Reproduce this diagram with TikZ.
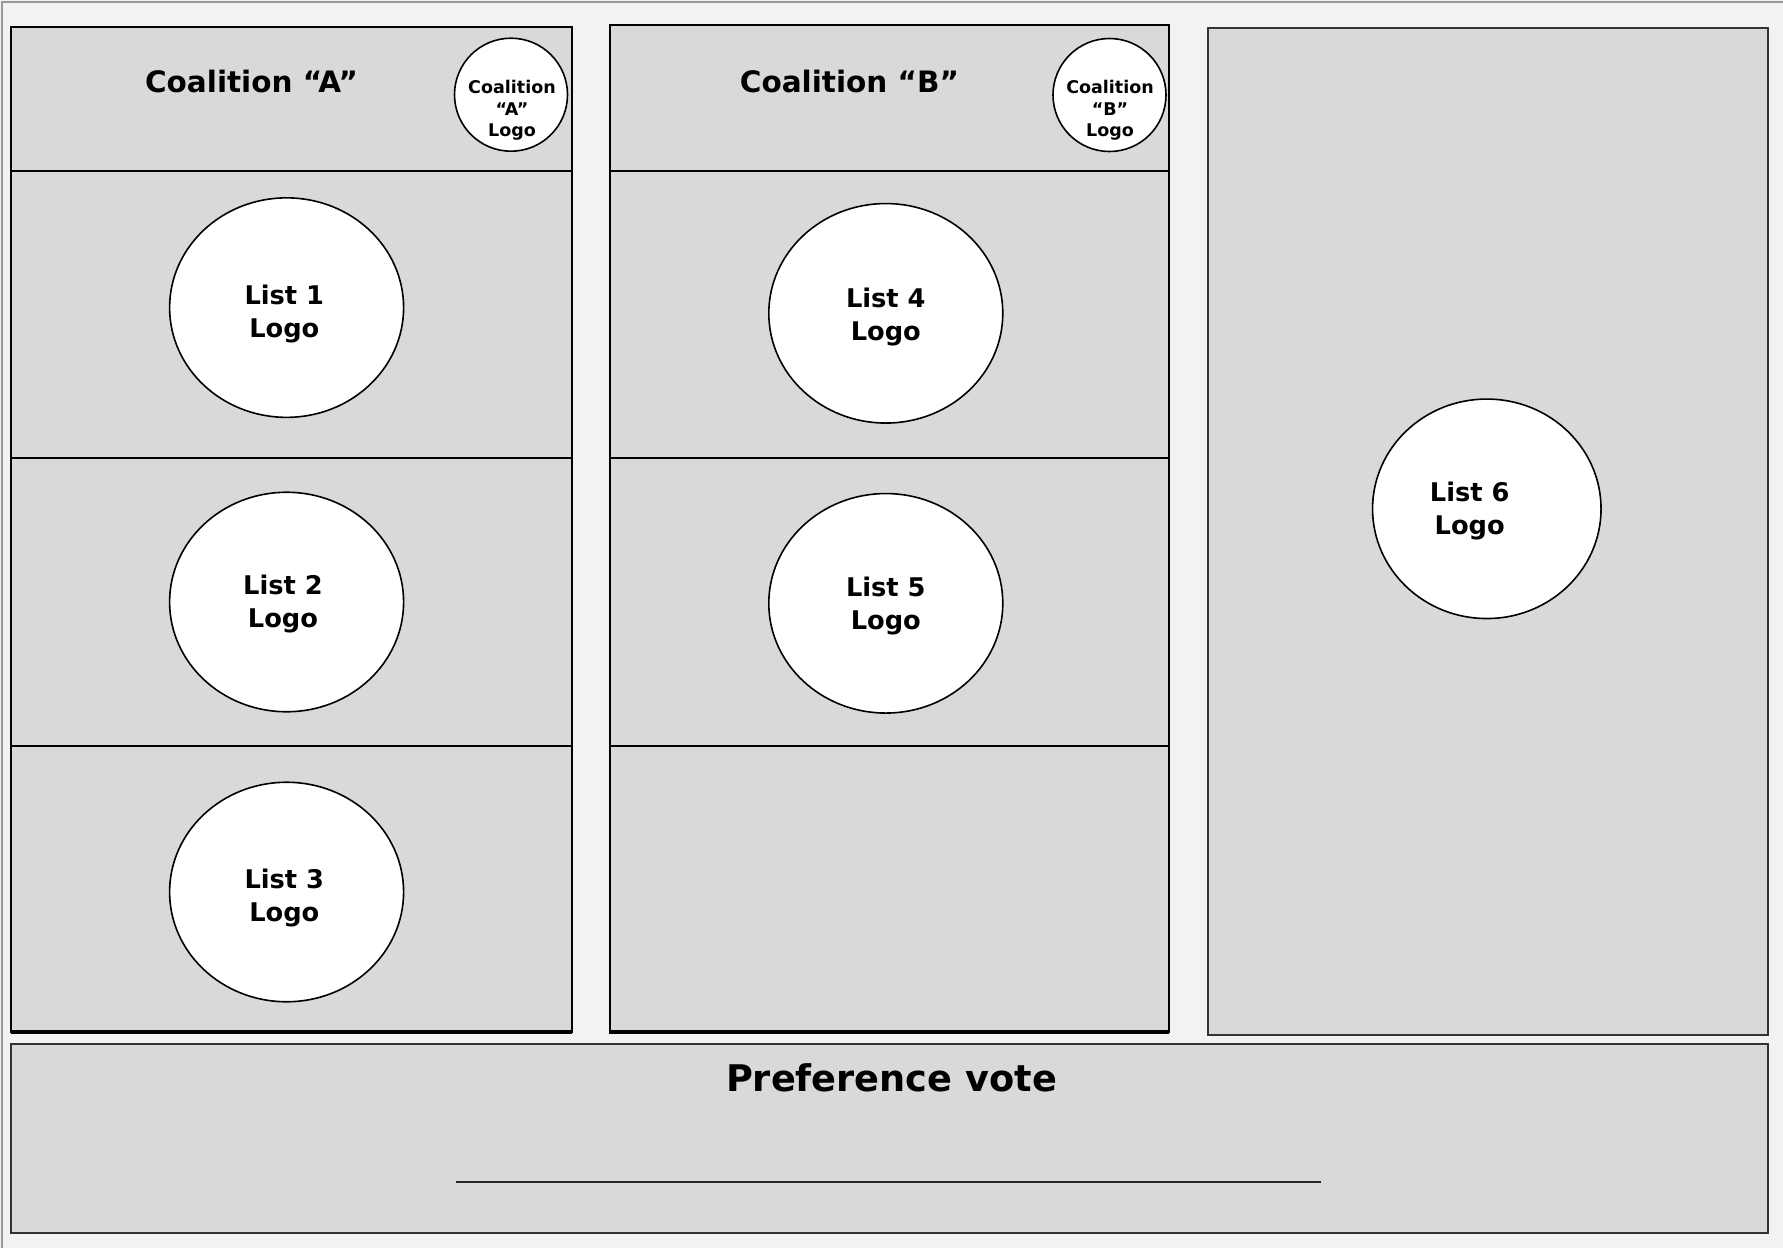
\documentclass[tikz,border=0pt]{standalone}
\usepackage{fontspec}
\setmainfont{DejaVu Sans}
\usetikzlibrary{shapes.geometric}
\definecolor{cellgray}{HTML}{D9D9D9}
\definecolor{bggray}{HTML}{F2F2F2}
\definecolor{framegray}{HTML}{999999}
\begin{document}
\begin{tikzpicture}[x=1pt,y=-1pt,
  panel/.style={draw=black, line width=2pt, fill=cellgray},
  softpanel/.style={draw=black!80, line width=2pt, fill=cellgray},
  divider/.style={draw=black, line width=2pt},
  bigoval/.style={ellipse, draw=black, line width=1.6pt, fill=white, inner sep=0pt,
    minimum width=234pt, minimum height=219.5pt},
  smalloval/.style={ellipse, draw=black, line width=1.6pt, fill=white, inner sep=0pt,
    minimum width=113pt, minimum height=113pt},
  logotxt/.style={align=center, inner sep=0pt, font=\bfseries\fontsize{25.7}{33}\selectfont},
  smalltxt/.style={align=center, inner sep=0pt, font=\bfseries\fontsize{17.5}{21.7}\selectfont},
  titletxt/.style={inner sep=0pt, font=\bfseries\fontsize{29.5}{35}\selectfont},
  preftxt/.style={inner sep=0pt, font=\bfseries\fontsize{36.7}{44}\selectfont}]
\useasboundingbox (0,0) rectangle (1783,1248);
\fill[bggray] (0,0) rectangle (1783,1248);
\draw[framegray, line width=2pt] (1.5,1248) -- (1.5,1.5) -- (1783,1.5);

% Coalition A column
\draw[panel] (11.4,27.3) rectangle (572,1032);
\draw[divider] (11.4,170.6) -- (572,170.6);
\draw[divider] (11.4,458.3) -- (572,458.3);
\draw[divider] (11.4,746) -- (572,746);
\draw[black, line width=3.5pt] (11.4,1032) -- (572,1032);

% Coalition B column
\draw[panel] (609.5,25) rectangle (1169,1032);
\draw[divider] (609.5,170.6) -- (1169,170.6);
\draw[divider] (609.5,458.3) -- (1169,458.3);
\draw[divider] (609.5,746) -- (1169,746);
\draw[black, line width=4pt] (608.5,1032) -- (1169,1032);

% List 6 column
\draw[softpanel] (1208,28.4) rectangle (1768,1034.5);

% Preference vote box
\draw[softpanel] (11.4,1044) rectangle (1768,1232.5);

% Titles
\node[titletxt] (titleA) at (251.5,81.5) {Coalition “A”};
\node[titletxt] (titleB) at (849.4,81.5) {Coalition “B”};

% Coalition logos
\node[smalloval] (logoA) at (511,94.7) {};
\node[smalltxt] (logoAtxt) at (512,110.4) {Coalition\\“A”\\Logo};
\node[smalloval] (logoB) at (1109.5,95) {};
\node[smalltxt] (logoBtxt) at (1110,110.4) {Coalition\\“B”\\Logo};

% List logos
\node[bigoval] (l1) at (286.6,307.6) {};
\node[logotxt] (l1t) at (284.3,313.6) {List 1\\Logo};
\node[bigoval] (l2) at (286.6,602) {};
\node[logotxt] (l2t) at (283,603.6) {List 2\\Logo};
\node[bigoval] (l3) at (286.6,892) {};
\node[logotxt] (l3t) at (284.3,898.1) {List 3\\Logo};
\node[bigoval] (l4) at (885.8,313.3) {};
\node[logotxt] (l4t) at (885.8,317.1) {List 4\\Logo};
\node[bigoval] (l5) at (885.8,603.3) {};
\node[logotxt] (l5t) at (885.8,605.8) {List 5\\Logo};
\node[bigoval, minimum width=228.5pt] (l6) at (1486.8,508.8) {};
\node[logotxt] (l6t) at (1469.7,511.5) {List 6\\Logo};

% Preference vote
\node[preftxt] (pref) at (891.5,1078) {Preference vote};
\coordinate (lineL) at (456,1181.5);
\coordinate (lineR) at (1321,1181.5);
\draw[black!85, line width=2pt] (lineL) -- (lineR);
\end{tikzpicture}
\end{document}
